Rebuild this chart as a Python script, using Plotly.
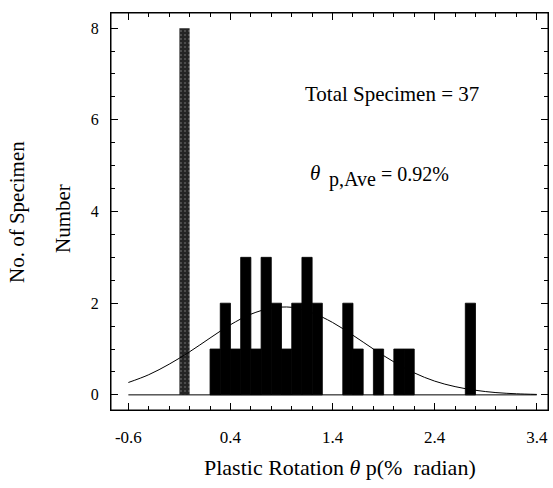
import plotly.graph_objects as go

# Histogram bins (width 0.1, left edges) and counts
gray_left = [-0.1]
gray_count = [8]
black_left = [0.2, 0.3, 0.4, 0.5, 0.6, 0.7, 0.8, 0.9, 1.0, 1.1, 1.2,
              1.5, 1.6, 1.8, 2.0, 2.1, 2.7]
black_count = [1, 2, 1, 3, 1, 3, 2, 1, 2, 3, 2,
               2, 1, 1, 1, 1, 2]
bin_width = 0.1

# Fitted distribution curve
curve_x = [-0.6, -0.4, -0.2, 0.0, 0.2, 0.4, 0.6, 0.8, 1.0, 1.2, 1.4, 1.6,
           1.8, 2.0, 2.2, 2.4, 2.6, 2.8, 3.0, 3.2, 3.4]
curve_y = [0.27, 0.44, 0.67, 0.94, 1.24, 1.53, 1.76, 1.89, 1.91, 1.79, 1.58,
           1.30, 1.00, 0.72, 0.48, 0.30, 0.18, 0.10, 0.05, 0.024, 0.01]

x_ticks = [-0.6, 0.4, 1.4, 2.4, 3.4]
y_ticks = [0, 2, 4, 6, 8]

FONT = "Liberation Serif"

fig = go.Figure()
fig.add_trace(go.Bar(
    x=[l + bin_width / 2 for l in black_left], y=black_count, width=bin_width,
    marker=dict(color="#000000", line=dict(width=0.8, color="#000000")),
    showlegend=False))
fig.add_trace(go.Bar(
    x=[l + bin_width / 2 for l in gray_left], y=gray_count, width=bin_width,
    marker=dict(color="#262626", line=dict(width=0),
                pattern=dict(shape=".", fgcolor="#8c8c8c", bgcolor="#242424",
                             size=4, solidity=0.2)),
    showlegend=False))
fig.add_trace(go.Scatter(
    x=[x_ticks[0], x_ticks[-1]], y=[0, 0], mode="lines",
    line=dict(color="black", width=1), showlegend=False))
fig.add_trace(go.Scatter(
    x=curve_x, y=curve_y, mode="lines", line=dict(color="black", width=1, shape="spline"),
    showlegend=False))

L, R, T, B = 111, 5, 13, 78
W, H = 553, 488
pw, ph = W - L - R, H - T - B


def px(x):
    return (x - L) / pw


def py(y):
    return (H - B - y) / ph


fig.update_layout(
    width=W, height=H, margin=dict(l=L, r=R, t=T, b=B),
    paper_bgcolor="white", plot_bgcolor="white", barmode="overlay",
    font=dict(family=FONT, color="black", size=17),
    xaxis=dict(range=[-0.77, 3.51], tickvals=x_ticks,
               ticktext=[f"{v:.1f}" for v in x_ticks],
               ticks="inside", ticklen=7, tickwidth=1, tickcolor="black",
               minor=dict(dtick=0.2, tick0=-0.6, ticks="inside", ticklen=4, tickcolor="black"),
               showline=True, linecolor="black", linewidth=1, mirror="allticks",
               showgrid=False, zeroline=False, ticklabelstandoff=12,
               tickfont=dict(size=17, family=FONT)),
    yaxis=dict(range=[-0.33, 8.33], tickvals=y_ticks,
               ticks="inside", ticklen=7, tickwidth=1, tickcolor="black",
               minor=dict(dtick=0.5, tick0=0, ticks="inside", ticklen=4, tickcolor="black"),
               showline=True, linecolor="black", linewidth=1, mirror="allticks",
               showgrid=False, zeroline=False, ticklabelstandoff=8,
               tickfont=dict(size=16, family=FONT)),
    shapes=[dict(type="rect", xref="paper", yref="paper", x0=0, y0=0, x1=1, y1=1,
                 line=dict(color="black", width=1), layer="above")],
)

ann = [
    dict(x=px(392), y=py(94), text="Total Specimen = 37", size=21),
    dict(x=px(315), y=py(173), text="<i>θ</i>", size=21),
    dict(x=px(352), y=py(180), text="p,Ave", size=20),
    dict(x=px(415), y=py(174), text="= 0.92%", size=20),
    dict(x=px(340), y=py(468), text="Plastic Rotation <i>θ</i> p(%  radian)", size=22),
]
for a in ann:
    fig.add_annotation(x=a["x"], y=a["y"], xref="paper", yref="paper", text=a["text"],
                       showarrow=False, font=dict(size=a["size"], family=FONT, color="black"),
                       xanchor="center", yanchor="middle")
for xx, yy, t in [(63, 219, "Number"), (17, 212, "No. of Specimen")]:
    fig.add_annotation(x=px(xx), y=py(yy), xref="paper", yref="paper", text=t, textangle=-90,
                       showarrow=False, font=dict(size=21, family=FONT, color="black"),
                       xanchor="center", yanchor="middle")

fig.write_html("out.html", config={"displayModeBar": False},
               post_script="document.body.style.margin='0';document.body.style.overflow='hidden';")
